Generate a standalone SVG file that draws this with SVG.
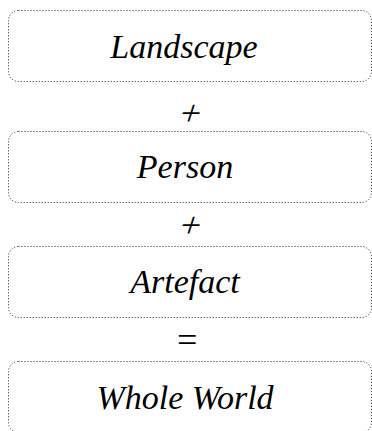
<svg xmlns="http://www.w3.org/2000/svg" width="372" height="431" viewBox="0 0 372 431">
<style>
.box{fill:none;stroke:#222;stroke-width:1;stroke-dasharray:1 2}
.t{font-family:"Liberation Serif",serif;font-style:italic;font-size:34px;fill:#000;text-anchor:middle}
.op{font-family:"Liberation Serif",serif;font-style:italic;font-size:36px;fill:#000;text-anchor:middle}
</style>
<rect width="372" height="431" fill="#fff"/>
<g id="landscape"><rect class="box" x="8.5" y="10.5" width="363" height="71" rx="10"/><text class="t" x="184" y="58">Landscape</text></g>
<g id="person"><rect class="box" x="8.5" y="131.5" width="363" height="71" rx="10"/><text class="t" x="185" y="178">Person</text></g>
<g id="artefact"><rect class="box" x="8.5" y="246.5" width="363" height="71" rx="10"/><text class="t" x="185" y="293">Artefact</text></g>
<g id="whole-world"><rect class="box" x="8.5" y="361.5" width="363" height="71" rx="10"/><text class="t" x="185" y="409">Whole World</text></g>
<g id="connectors">
<text class="op" transform="translate(187,125) skewX(-18)">+</text>
<text class="op" transform="translate(187,237) skewX(-18)">+</text>
<text class="op" x="187" y="352">=</text>
</g>
</svg>
